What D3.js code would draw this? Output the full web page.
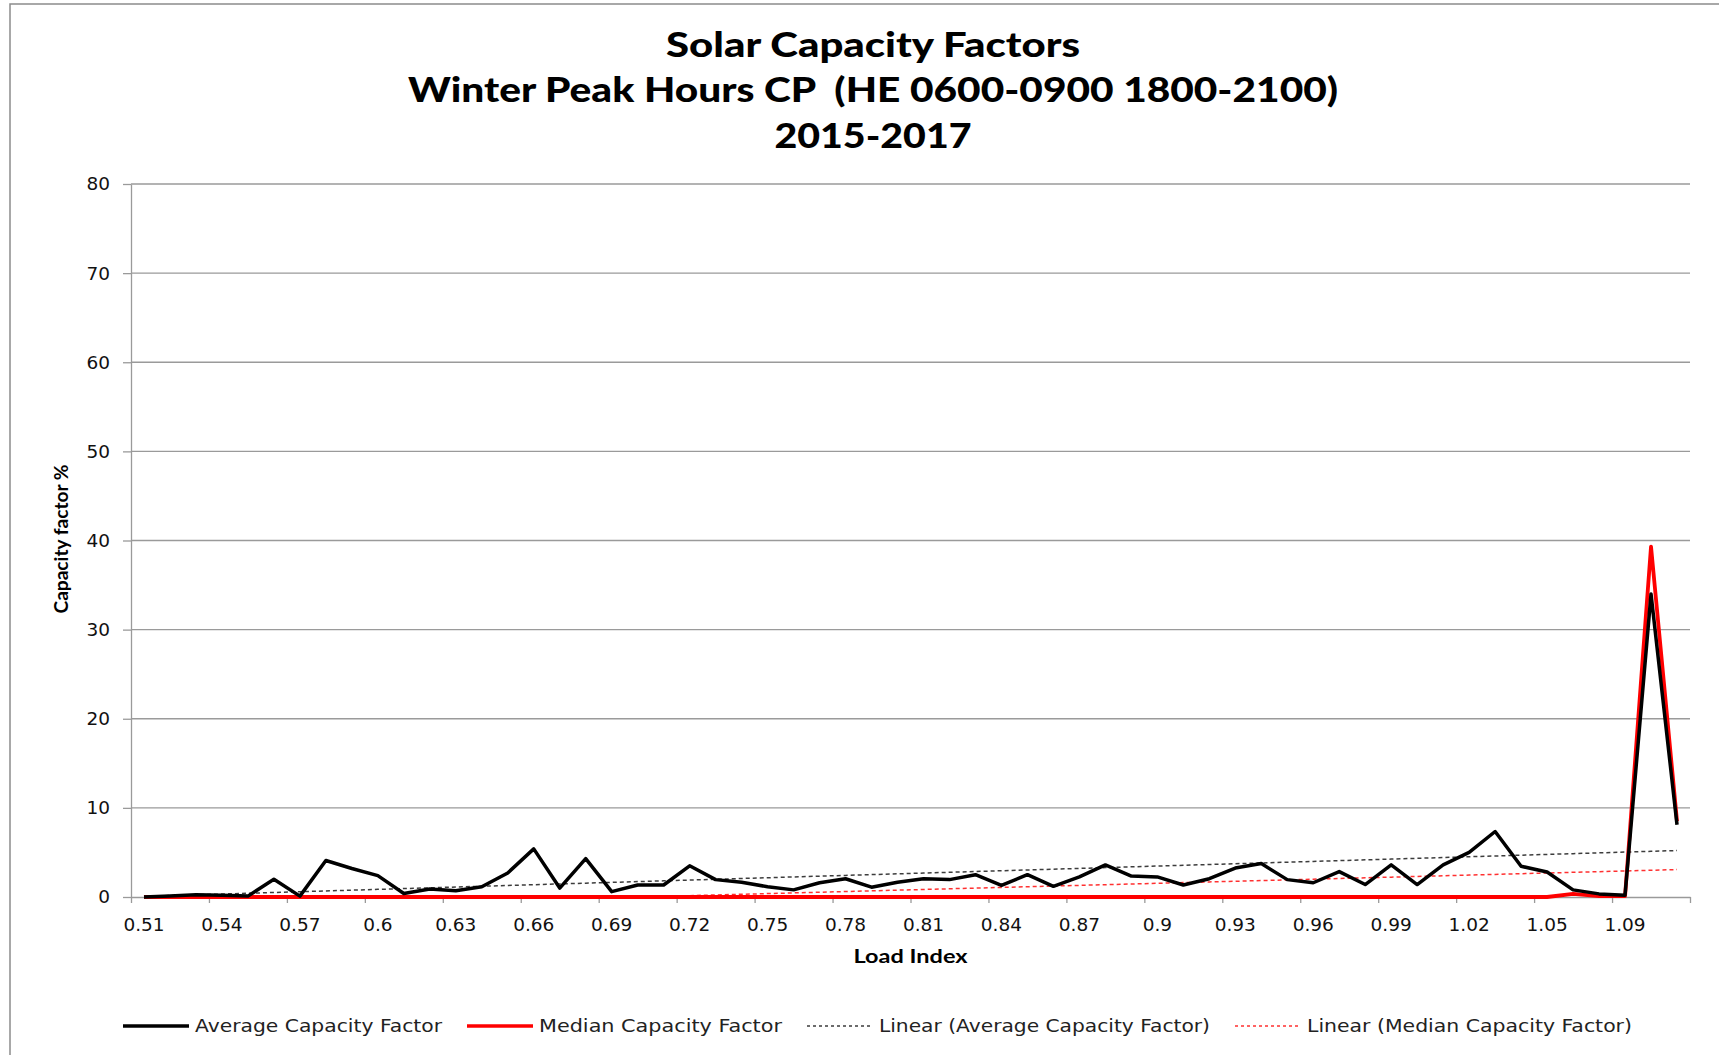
<!DOCTYPE html>
<html>
<head>
<meta charset="utf-8">
<script src="https://cdn.jsdelivr.net/npm/d3@7"></script>
<style>
  body { margin: 0; background: #fff; }
  text { white-space: pre; }
</style>
</head>
<body>
<div id="chart"></div>
<script>
// categories (load index) as shown on the axis
var loadIndex = ["0.51","0.52","0.53","0.54","0.55","0.56","0.57","0.58","0.59","0.6",
                 "0.61","0.62","0.63","0.64","0.65","0.66","0.67","0.68","0.69","0.7",
                 "0.71","0.72","0.73","0.74","0.75","0.76","0.77","0.78","0.79","0.8",
                 "0.81","0.82","0.83","0.84","0.85","0.86","0.87","0.88","0.89","0.9",
                 "0.91","0.92","0.93","0.94","0.95","0.96","0.97","0.98","0.99","1",
                 "1.01","1.02","1.03","1.04","1.05","1.06","1.07","1.09","1.1","1.11"];

var averageCF = [0, 0.1, 0.25, 0.2, 0.1, 2.0, 0.1, 4.1, 3.2, 2.4,
                 0.4, 0.9, 0.7, 1.15, 2.7, 5.4, 1.0, 4.3, 0.6, 1.35,
                 1.35, 3.5, 1.95, 1.65, 1.15, 0.8, 1.6, 2.05, 1.1, 1.65,
                 2.05, 1.95, 2.5, 1.3, 2.5, 1.2, 2.25, 3.6, 2.35, 2.25,
                 1.35, 2.05, 3.25, 3.75, 1.95, 1.6, 2.85, 1.4, 3.6, 1.4,
                 3.6, 5.0, 7.35, 3.45, 2.8, 0.8, 0.35, 0.2, 34.0, 8.1];

var medianCF = [0, 0, 0, 0, 0, 0, 0, 0, 0, 0,
                0, 0, 0, 0, 0, 0, 0, 0, 0, 0,
                0, 0, 0, 0, 0, 0, 0, 0, 0, 0,
                0, 0, 0, 0, 0, 0, 0, 0, 0, 0,
                0, 0, 0, 0, 0, 0, 0, 0, 0, 0,
                0, 0, 0, 0, 0, 0.35, 0.1, 0.1, 39.3, 8.5];

var yTicks = [0, 10, 20, 30, 40, 50, 60, 70, 80];

var titleLines = ["Solar Capacity Factors",
                  "Winter Peak Hours CP  (HE 0600-0900 1800-2100)",
                  "2015-2017"];
var xTitle = "Load Index";
var yTitle = "Capacity factor %";
var legendNames = ["Average Capacity Factor", "Median Capacity Factor",
                   "Linear (Average Capacity Factor)", "Linear (Median Capacity Factor)"];

// layout
var W = 1719, H = 1055;
var plotL = 131, plotR = 1690, plotT = 184, plotB = 897;

var svg = d3.select("#chart").append("svg")
    .attr("width", W)
    .attr("height", H);

svg.append("rect").attr("width", W).attr("height", H).attr("fill", "#fff");
// chart frame (cut off at right / bottom)
svg.append("rect")
    .attr("x", 10).attr("y", 4)
    .attr("width", 1800).attr("height", 1200)
    .attr("fill", "none").attr("stroke", "#8c8c8c").attr("stroke-width", 1.5);

// scales
var x = d3.scaleBand().domain(loadIndex).range([plotL, plotR]).padding(0);
var xIdx = d3.scaleLinear().domain([0, loadIndex.length]).range([plotL, plotR]);
var y = d3.scaleLinear().domain([0, 80]).range([plotB, plotT]);
function cx(d, i) { return x(loadIndex[i]) + x.bandwidth() / 2; }

// gridlines
svg.append("g")
    .selectAll("line")
    .data(yTicks.filter(function(d) { return d > 0; }))
    .join("line")
      .attr("x1", plotL).attr("x2", plotR)
      .attr("y1", function(d) { return y(d); })
      .attr("y2", function(d) { return y(d); })
      .attr("stroke", "#9a9a9a").attr("stroke-width", 1.3);

// y axis
var yAxis = svg.append("g")
    .attr("transform", "translate(" + plotL + ",0)")
    .call(d3.axisLeft(y).tickValues(yTicks).tickSize(8).tickPadding(13).tickSizeOuter(0));
yAxis.select(".domain").attr("stroke", "#9a9a9a").attr("stroke-width", 1.3);
yAxis.selectAll(".tick line").attr("stroke", "#9a9a9a").attr("stroke-width", 1.3);
yAxis.selectAll("text")
    .attr("font-family", "DejaVu Sans").attr("font-size", 18.5).attr("fill", "#111");

// x axis: tick marks on category boundaries, labels on category centres
var xTicks = svg.append("g")
    .attr("transform", "translate(0," + plotB + ")")
    .call(d3.axisBottom(xIdx).tickValues(d3.range(0, loadIndex.length + 1, 3))
          .tickFormat("").tickSize(6).tickSizeOuter(0));
xTicks.select(".domain").attr("stroke", "#9a9a9a").attr("stroke-width", 1.3);
xTicks.selectAll(".tick line").attr("stroke", "#9a9a9a").attr("stroke-width", 1.3);

var xLabels = svg.append("g")
    .attr("transform", "translate(0," + plotB + ")")
    .call(d3.axisBottom(x).tickValues(loadIndex.filter(function(d, i) { return i % 3 === 0; }))
          .tickSize(0).tickPadding(21));
xLabels.select(".domain").remove();
xLabels.selectAll("text")
    .attr("font-family", "DejaVu Sans").attr("font-size", 18.5).attr("fill", "#111");

// clip for the trend lines
svg.append("clipPath").attr("id", "plotclip")
  .append("rect")
    .attr("x", plotL).attr("y", plotT)
    .attr("width", plotR - plotL).attr("height", plotB - plotT);

// linear trendlines (least squares on category number)
function trend(vals) {
  var n = vals.length;
  var xm = (n + 1) / 2, ym = d3.mean(vals);
  var sxy = 0, sxx = 0;
  vals.forEach(function(v, i) {
    sxy += (i + 1 - xm) * (v - ym);
    sxx += (i + 1 - xm) * (i + 1 - xm);
  });
  var slope = sxy / sxx, icpt = ym - slope * xm;
  return vals.map(function(v, i) { return icpt + slope * (i + 1); });
}

var line = d3.line()
    .x(cx)
    .y(function(d) { return y(d); });

svg.append("path")
    .attr("clip-path", "url(#plotclip)")
    .attr("d", line(trend(averageCF)))
    .attr("fill", "none").attr("stroke", "#3c3c3c")
    .attr("stroke-width", 1.5).attr("stroke-dasharray", "4,3");

svg.append("path")
    .attr("clip-path", "url(#plotclip)")
    .attr("d", line(trend(medianCF)))
    .attr("fill", "none").attr("stroke", "#ff3030")
    .attr("stroke-width", 1.5).attr("stroke-dasharray", "4,3");

// series
svg.append("path")
    .attr("d", line(medianCF))
    .attr("fill", "none").attr("stroke", "#ff0000")
    .attr("stroke-width", 3.8).attr("stroke-linejoin", "round");

svg.append("path")
    .attr("d", line(averageCF))
    .attr("fill", "none").attr("stroke", "#000")
    .attr("stroke-width", 3.5).attr("stroke-linejoin", "round");

// titles
var titleY = [57, 102, 148], titleLen = [414, 930, 197];
svg.append("g")
    .selectAll("text")
    .data(titleLines)
    .join("text")
      .attr("x", 873)
      .attr("y", function(d, i) { return titleY[i]; })
      .attr("text-anchor", "middle")
      .attr("font-family", "Lato").attr("font-weight", "900")
      .attr("font-size", 35)
      .attr("textLength", function(d, i) { return titleLen[i]; })
      .attr("lengthAdjust", "spacingAndGlyphs")
      .text(function(d) { return d; });

svg.append("text")
    .attr("x", (plotL + plotR) / 2).attr("y", 963)
    .attr("text-anchor", "middle")
    .attr("font-family", "Lato").attr("font-weight", "bold").attr("font-size", 19)
    .attr("textLength", 114).attr("lengthAdjust", "spacingAndGlyphs")
    .text(xTitle);

svg.append("text")
    .attr("transform", "translate(68,539) rotate(-90)")
    .attr("text-anchor", "middle")
    .attr("font-family", "Lato").attr("font-weight", "bold").attr("font-size", 18)
    .attr("textLength", 149).attr("lengthAdjust", "spacingAndGlyphs")
    .text(yTitle);

// legend
var legX = [123, 467, 807, 1235], legTextLen = [247, 243, 331, 325];
var legStyle = [
  {stroke: "#000", width: 3.6, dash: null},
  {stroke: "#ff0000", width: 3.6, dash: null},
  {stroke: "#3c3c3c", width: 1.4, dash: "3,3"},
  {stroke: "#ff3030", width: 1.4, dash: "3,3"}
];
var leg = svg.append("g")
    .selectAll("g")
    .data(legendNames)
    .join("g")
      .attr("transform", function(d, i) { return "translate(" + legX[i] + ",1026)"; });
leg.append("line")
    .attr("x1", 0).attr("x2", 66)
    .attr("stroke", function(d, i) { return legStyle[i].stroke; })
    .attr("stroke-width", function(d, i) { return legStyle[i].width; })
    .attr("stroke-dasharray", function(d, i) { return legStyle[i].dash; });
leg.append("text")
    .attr("x", 72).attr("dy", "0.36em")
    .attr("font-family", "DejaVu Sans").attr("font-size", 18).attr("fill", "#222")
    .attr("textLength", function(d, i) { return legTextLen[i]; })
    .attr("lengthAdjust", "spacingAndGlyphs")
    .text(function(d) { return d; });
</script>
</body>
</html>
